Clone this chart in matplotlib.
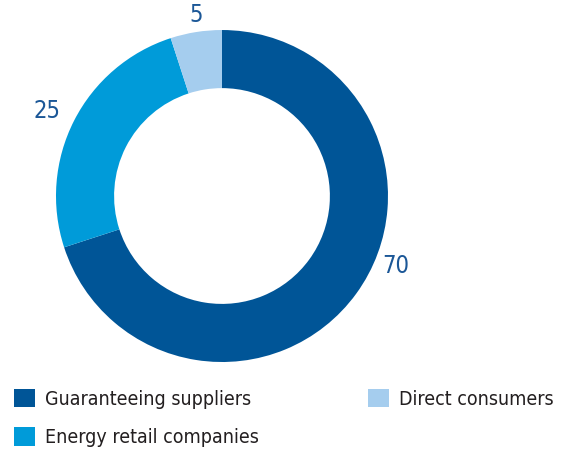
import numpy as np
import matplotlib
matplotlib.use("Agg")
import matplotlib.pyplot as plt
from matplotlib.patches import Patch

categories = ["Guaranteeing suppliers", "Energy retail companies", "Direct consumers"]
values = [70, 25, 5]
colors = ["#005597", "#009bd9", "#a5cdee"]

plt.rcParams['font.family'] = ['DejaVu Sans']
plt.rcParams['font.stretch'] = 'condensed'

fig = plt.figure(figsize=(5.79, 4.59), dpi=100)
ax = fig.add_axes([0.0967, 0.2113, 0.5734, 0.7233])

wedges, _ = ax.pie(values, colors=colors, startangle=90, counterclock=False,
                   radius=1, wedgeprops=dict(width=0.35, linewidth=0))
ax.set_xlim(-1, 1)
ax.set_ylim(-1, 1)
ax.set_aspect('equal')

# label placement (angle in degrees, distance in radii)
label_pos = [(-22, 1.13), (154, 1.17), (98, 1.1)]
for v, (ang, d) in zip(values, label_pos):
    a = np.deg2rad(ang)
    ax.text(d * np.cos(a), d * np.sin(a), str(v), ha='center', va='center',
            fontsize=17, color='#1b5797', clip_on=False)

handles = [Patch(facecolor=c, edgecolor='none') for c in colors]
leg = fig.legend(handles, categories, loc='lower left', bbox_to_anchor=(-0.006, -0.012),
                 ncol=2, frameon=False, fontsize=14, handlelength=1.1, handleheight=1.1,
                 handletextpad=0.5, columnspacing=5.6, labelspacing=0.95,
                 labelcolor='#231f20')

fig.savefig("out.png", dpi=100)
